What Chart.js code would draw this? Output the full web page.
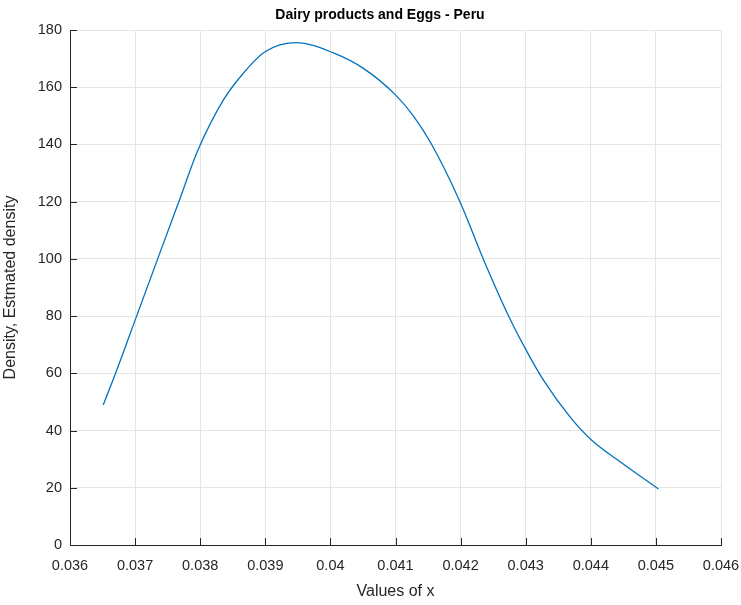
<!DOCTYPE html>
<html>
<head>
<meta charset="utf-8">
<script src="https://cdn.jsdelivr.net/npm/chart.js@4"></script>
<style>
html,body{margin:0;padding:0;background:#fff;}
#wrap{position:relative;width:741px;height:605px;}
</style>
</head>
<body>
<div id="wrap"><canvas id="c" width="741" height="605"></canvas></div>
<script>
const titleText = "Dairy products and Eggs - Peru";
const xLabel = "Values of x";
const yLabel = "Density, Estmated density";
const xValues = [0.03651, 0.0367, 0.037023, 0.037347, 0.037664, 0.037971, 0.038355, 0.038637, 0.038995, 0.039482, 0.040045, 0.040506, 0.040992, 0.041274, 0.041556, 0.04199, 0.042348, 0.04273, 0.04299, 0.04327, 0.04368, 0.04401, 0.04445, 0.04504];
const densityValues = [48.9, 60, 80, 100, 119.5, 138.3, 155.5, 164.2, 172.4, 175.6, 172.0, 166.6, 157.5, 150, 140, 120, 100, 80.4, 68.8, 57.7, 44.8, 36.7, 29.1, 19.6];
const xTicks = [0.036, 0.037, 0.038, 0.039, 0.040, 0.041, 0.042, 0.043, 0.044, 0.045, 0.046];
const yTicks = [0, 20, 40, 60, 80, 100, 120, 140, 160, 180];

const points = xValues.map((x, i) => ({x: x, y: densityValues[i]}));
const FONT = "'Liberation Sans', Arial, Helvetica, sans-serif";

const innerTicks = {
  id: 'innerTicks',
  afterDraw(chart) {
    const ctx = chart.ctx, a = chart.chartArea;
    const xs = chart.scales.x, ys = chart.scales.y;
    ctx.save();
    ctx.strokeStyle = '#262626';
    ctx.lineWidth = 1;
    ctx.beginPath();
    xTicks.forEach(v => {
      const px = Math.round(xs.getPixelForValue(v)) + 0.5;
      ctx.moveTo(px, a.bottom);
      ctx.lineTo(px, a.bottom - 7);
    });
    yTicks.forEach(v => {
      const py = Math.round(ys.getPixelForValue(v)) + 0.5;
      ctx.moveTo(a.left, py);
      ctx.lineTo(a.left + 7, py);
    });
    ctx.stroke();
    // title
    ctx.fillStyle = '#000';
    ctx.font = "bold 14px " + FONT;
    ctx.textAlign = 'center';
    ctx.textBaseline = 'middle';
    ctx.fillText(titleText, 380, 15);
    ctx.restore();
  }
};

new Chart(document.getElementById('c'), {
  type: 'scatter',
  data: {
    datasets: [{
      data: points,
      showLine: true,
      borderColor: '#0072BD',
      borderWidth: 1.3,
      pointRadius: 0,
      cubicInterpolationMode: 'monotone',
      fill: false
    }]
  },
  options: {
    responsive: false,
    animation: false,
    layout: { padding: { top: 30, right: 20, left: 0, bottom: 0 } },
    plugins: {
      legend: { display: false },
      tooltip: { enabled: false },
      title: { display: false }
    },
    scales: {
      x: {
        type: 'linear',
        min: 0.036, max: 0.046,
        afterBuildTicks(s) { s.ticks = xTicks.map(v => ({value: v})); },
        afterFit(s) { s.height = 60; s.paddingLeft = 0; s.paddingRight = 0; },
        ticks: {
          color: '#262626',
          font: { family: FONT, size: 14.5 },
          padding: 12,
          maxRotation: 0,
          callback: v => String(+v.toFixed(3))
        },
        grid: { color: '#e5e5e5', drawTicks: false, lineWidth: 1 },
        border: { color: '#262626', width: 1 },
        title: {
          display: true, text: xLabel, color: '#262626',
          font: { family: FONT, size: 16 },
          padding: { top: 4, bottom: 4 }
        }
      },
      y: {
        type: 'linear',
        min: 0, max: 180,
        afterBuildTicks(s) { s.ticks = yTicks.map(v => ({value: v})); },
        afterFit(s) { s.width = 70; s.paddingTop = 0; s.paddingBottom = 0; },
        ticks: {
          color: '#262626',
          font: { family: FONT, size: 14.5 },
          padding: 8
        },
        grid: { color: '#e5e5e5', drawTicks: false, lineWidth: 1 },
        border: { color: '#262626', width: 1 },
        title: {
          display: true, text: yLabel, color: '#262626',
          font: { family: FONT, size: 16 },
          padding: { top: 1, bottom: 0 }
        }
      }
    }
  },
  plugins: [innerTicks]
});
</script>
</body>
</html>
